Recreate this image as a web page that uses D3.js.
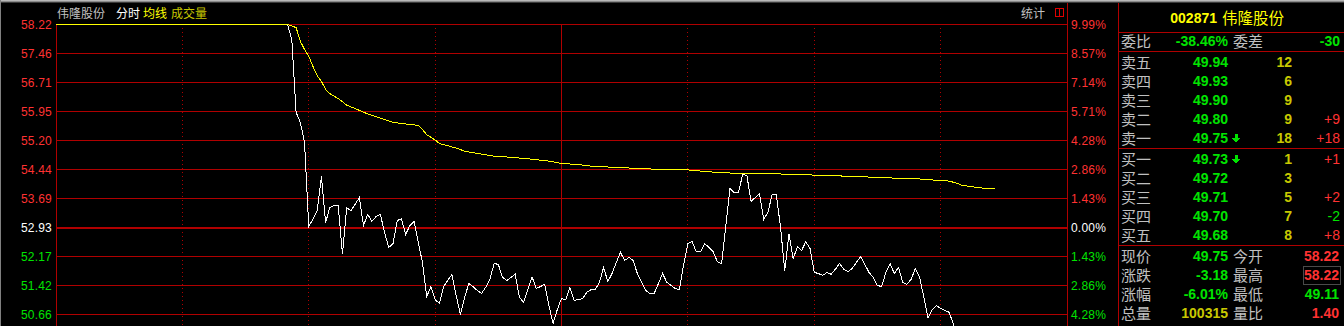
<!DOCTYPE html>
<html>
<head>
<meta charset="utf-8">
<script src="https://cdn.jsdelivr.net/npm/d3@7"></script>
<style>
  html, body { margin: 0; padding: 0; background: #000; overflow: hidden; }
  svg { display: block; }
  .num { font-family: "Liberation Sans", Arial, sans-serif; }
  .cjk { font-family: "Noto Sans CJK SC", sans-serif; }
</style>
</head>
<body>
<svg id="chart" width="1344" height="326"></svg>
<script>
// ---------------- data ----------------
const stockCode = "002871";
const stockName = "伟隆股份";
const preClose = 52.93;

// left axis (price) tick labels and right axis (percent) tick labels
const priceTicks = ["58.22","57.46","56.71","55.95","55.20","54.44","53.69","52.93","52.17","51.42","50.66","49.91","49.15","48.40","47.64"];
const pctTicks   = ["9.99%","8.57%","7.14%","5.71%","4.28%","2.86%","1.43%","0.00%","1.43%","2.86%","4.28%","5.71%","7.14%","8.57%","9.99%"];

// minute-by-minute last price (minute index 0 .. 223 of 240)
const minutePrices = [
  58.22,58.22,58.22,58.22,58.22,58.22,58.22,58.22,58.22,58.22,
  58.22,58.22,58.22,58.22,58.22,58.22,58.22,58.22,58.22,58.22,
  58.22,58.22,58.22,58.22,58.22,58.22,58.22,58.22,58.22,58.22,
  58.22,58.22,58.22,58.22,58.22,58.22,58.22,58.22,58.22,58.22,
  58.22,58.22,58.22,58.22,58.22,58.22,58.22,58.22,58.22,58.22,
  58.22,58.22,58.22,58.22,58.22,58.22,
  57.80,55.93,55.67,55.15,52.96,53.14,53.37,54.26,53.06,53.45,
  53.50,53.50,52.23,53.45,53.37,53.53,53.71,52.98,53.27,53.09,
  53.22,53.27,52.80,52.41,52.51,53.11,53.16,52.75,52.98,53.09,
  52.54,52.02,51.13,51.39,51.05,50.95,51.39,51.55,51.71,51.16,
  50.66,51.11,51.47,51.39,51.29,51.21,51.37,51.58,51.99,51.97,
  51.63,51.55,51.63,51.71,51.11,50.98,51.31,51.65,51.34,51.39,
  51.45,50.90,50.43,50.79,51.08,51.05,51.37,51.03,51.05,51.08,
  51.24,51.31,51.31,51.50,51.89,51.52,51.73,52.02,52.28,52.07,
  52.15,52.07,51.73,51.50,51.29,51.21,51.21,51.47,51.73,51.50,
  51.42,51.34,51.31,51.97,52.51,52.56,52.30,52.30,52.51,52.41,
  52.30,52.04,51.99,52.98,53.95,53.84,53.84,54.31,54.29,53.61,
  53.71,53.82,53.14,53.32,53.79,53.79,52.93,51.81,52.77,52.12,
  52.43,52.33,52.56,52.38,51.76,51.73,51.68,51.76,51.71,51.84,
  51.99,51.84,51.78,51.86,52.02,52.17,51.97,51.76,51.63,51.42,
  51.39,51.76,51.99,51.73,51.89,51.50,51.45,51.58,51.86,51.63,
  51.13,50.58,50.79,50.90,50.82,50.77,50.72,50.43,49.99,49.59,
  49.26,49.11,49.41,49.59,49.67,49.72,49.75,49.75
];

// average price line (minute, price)
const avgMinutes = [0,55,57,58,59,60,61,62,63,64,65,67,69,71,74,76,78,80,82,86,87,88,90,91,93,95,97,100,104,108,112,117,120,124,127,134,142,150,152,155,160,170,177,181,190,196,206,208,210,212,214,215,217,219,221,223];
const avgPrices  = [58.22,58.22,58.14,57.78,57.57,57.39,57.13,56.89,56.74,56.53,56.42,56.29,56.12,56.03,55.89,55.82,55.74,55.67,55.64,55.59,55.48,55.35,55.21,55.12,55.06,55.00,54.92,54.86,54.79,54.76,54.72,54.66,54.60,54.57,54.53,54.49,54.45,54.43,54.41,54.38,54.35,54.33,54.31,54.29,54.26,54.23,54.19,54.17,54.15,54.14,54.08,54.03,54.00,53.97,53.94,53.94];

const timeGridMinutes = [0,30,60,90,120,150,180,210,240];

// order book
const weibi = "-38.46%", weicha = "-30";
const sellLabels = ["卖五","卖四","卖三","卖二","卖一"];
const sellPrices = ["49.94","49.93","49.90","49.80","49.75"];
const sellVols   = ["12","6","9","9","18"];
const sellChg    = ["","","","+9","+18"];
const buyLabels  = ["买一","买二","买三","买四","买五"];
const buyPrices  = ["49.73","49.72","49.71","49.70","49.68"];
const buyVols    = ["1","3","5","7","8"];
const buyChg     = ["+1","","+2","-2","+8"];

// quote stats
const statLeftLabels  = ["现价","涨跌","涨幅","总量"];
const statLeftValues  = ["49.75","-3.18","-6.01%","100315"];
const statRightLabels = ["今开","最高","最低","量比"];
const statRightValues = ["58.22","58.22","49.11","1.40"];

// ---------------- drawing ----------------
const RED = "#ff3232", GREEN = "#00e400", GRID = "#b00000", LABEL = "#c0c0c0", VOLY = "#c8c800";
const H = 326;
const svg = d3.select("#chart");
svg.append("rect").attr("width",1344).attr("height",H).attr("fill","#000");

// top gray bevel and left edge
svg.append("rect").attr("x",0).attr("y",0).attr("width",1344).attr("height",1).attr("fill","#b8b8b8");
svg.append("rect").attr("x",0).attr("y",1).attr("width",1344).attr("height",1).attr("fill","#8a8a8a");
svg.append("rect").attr("x",0).attr("y",2).attr("width",1344).attr("height",1).attr("fill","#3a3a3a");
svg.append("rect").attr("x",0).attr("y",0).attr("width",1).attr("height",H).attr("fill","#808080");

const x = d3.scaleLinear().domain([0,240]).range([56,1067]);
const y = d3.scaleLinear().domain([+priceTicks[priceTicks.length-1], +priceTicks[0]]).range([430.5,24.5]);
const px = v => Math.floor(v) + 0.5;

const grid = svg.append("g").attr("shape-rendering","crispEdges");
// horizontal grid lines
priceTicks.forEach(t => {
  const p = +t;
  const isZero = Math.abs(p - preClose) < 0.005;
  const yy = isZero ? Math.floor(y(p)) + 1 : px(y(p));
  grid.append("line")
    .attr("x1", x(0)).attr("x2", x(240)+1)
    .attr("y1", yy).attr("y2", yy)
    .attr("stroke", GRID).attr("stroke-width", isZero ? 2 : 1);
});
// vertical grid lines
timeGridMinutes.forEach(m => {
  const solid = (m === 0 || m === 120 || m === 240);
  grid.append("line")
    .attr("x1", px(x(m))).attr("x2", px(x(m)))
    .attr("y1", (m === 240) ? 3 : y(+priceTicks[0]) - 0.5).attr("y2", 440)
    .attr("stroke", GRID).attr("stroke-width", 1)
    .attr("stroke-dasharray", solid ? null : "1,3");
});
// right panel border and separators
grid.append("line").attr("x1",1118.5).attr("x2",1118.5).attr("y1",3).attr("y2",H).attr("stroke",GRID);
[32,51,148,245].forEach(r => {
  grid.append("line").attr("x1",1118).attr("x2",1344).attr("y1",r+0.5).attr("y2",r+0.5).attr("stroke",GRID);
});

// axis labels (only those inside the visible window)
const tickColor = t => {
  const p = +t;
  if (Math.abs(p - preClose) < 0.005) return "#ffffff";
  return p > preClose ? RED : GREEN;
};
const visibleIdx = priceTicks.map((t,i) => i).filter(i => px(y(+priceTicks[i])) + 4 < H - 2);
svg.append("g").selectAll("text").data(visibleIdx).join("text")
  .attr("class","num").attr("x",52).attr("y", i => px(y(+priceTicks[i])) + 4)
  .attr("text-anchor","end").attr("font-size",12).attr("letter-spacing",0.2)
  .attr("fill", i => tickColor(priceTicks[i])).text(i => priceTicks[i]);
svg.append("g").selectAll("text").data(visibleIdx).join("text")
  .attr("class","num").attr("x",1071).attr("y", i => px(y(+priceTicks[i])) + 4)
  .attr("text-anchor","start").attr("font-size",12).attr("letter-spacing",0.2)
  .attr("fill", i => tickColor(priceTicks[i])).text(i => pctTicks[i]);

// price line and average line
const priceLine = d3.line().x((d,i) => x(i)).y(d => y(d));
svg.append("path").datum(minutePrices)
  .attr("d", priceLine).attr("fill","none").attr("stroke","#ffffff").attr("stroke-width",1)
  .attr("shape-rendering","crispEdges");
const avgData = avgMinutes.map((m,i) => [m, avgPrices[i]]);
svg.append("path").datum(avgData)
  .attr("d", d3.line().x(d => x(d[0])).y(d => y(d[1])))
  .attr("fill","none").attr("stroke","#ffff00").attr("stroke-width",1)
  .attr("shape-rendering","crispEdges");

// title row
const title = svg.append("g").attr("class","cjk").attr("font-size",12);
title.append("text").attr("x",57).attr("y",18).attr("fill",LABEL).text(stockName);
title.append("text").attr("x",116).attr("y",18).attr("fill","#ffffff").text("分时");
title.append("text").attr("x",143).attr("y",18).attr("fill","#ffff00").text("均线");
title.append("text").attr("x",171).attr("y",18).attr("fill",VOLY).text("成交量");
title.append("text").attr("x",1021).attr("y",18).attr("fill",LABEL).text("统计");
svg.append("rect").attr("x",1055.5).attr("y",8.5).attr("width",8).attr("height",8)
  .attr("fill","none").attr("stroke","#e00000").attr("shape-rendering","crispEdges");
svg.append("line").attr("x1",1059.5).attr("x2",1059.5).attr("y1",8.5).attr("y2",16.5)
  .attr("stroke","#e00000").attr("shape-rendering","crispEdges");

// right panel header
svg.append("text").attr("class","num").attr("font-weight","bold").attr("font-size",14)
  .attr("x",1217).attr("y",23).attr("text-anchor","end").attr("fill","#ffff00").text(stockCode);
svg.append("text").attr("class","cjk").attr("font-size",15.5)
  .attr("x",1222).attr("y",24).attr("fill","#ffff00").text(stockName);

const LF = 15;
const panel = svg.append("g");
function row(baseline, label, value, valueColor, vol, chg, chgColor, arrow) {
  panel.append("text").attr("class","cjk").attr("font-size",LF).attr("x",1121).attr("y",baseline+1)
    .attr("fill",LABEL).text(label);
  panel.append("text").attr("class","num").attr("font-weight","bold").attr("font-size",14)
    .attr("x",1228).attr("y",baseline).attr("text-anchor","end").attr("fill",valueColor).text(value);
  panel.append("text").attr("class","num").attr("font-weight","bold").attr("font-size",14)
    .attr("x",1292).attr("y",baseline).attr("text-anchor","end").attr("fill",VOLY).text(vol);
  if (chg) panel.append("text").attr("class","num").attr("font-size",14)
    .attr("x",1340).attr("y",baseline).attr("text-anchor","end").attr("fill",chgColor).text(chg);
  if (arrow) {
    const ax = 1235.5, top = baseline - 9;
    panel.append("path")
      .attr("d", `M${ax-1},${top} h3 v4 h3 l-4.5,5 l-4.5,-5 h3 z`)
      .attr("fill", GREEN).attr("shape-rendering","crispEdges");
  }
}
// 委比 row
panel.append("text").attr("class","cjk").attr("font-size",LF).attr("x",1121).attr("y",47).attr("fill",LABEL).text("委比");
panel.append("text").attr("class","num").attr("font-weight","bold").attr("font-size",14)
  .attr("x",1228).attr("y",46).attr("text-anchor","end").attr("fill",GREEN).text(weibi);
panel.append("text").attr("class","cjk").attr("font-size",LF).attr("x",1233).attr("y",47).attr("fill",LABEL).text("委差");
panel.append("text").attr("class","num").attr("font-weight","bold").attr("font-size",14)
  .attr("x",1340).attr("y",46).attr("text-anchor","end").attr("fill",GREEN).text(weicha);

const chgColor = c => c.startsWith("-") ? GREEN : RED;
sellLabels.forEach((l,i) => row(66.5 + i*19, l, sellPrices[i], GREEN, sellVols[i], sellChg[i], chgColor(sellChg[i]), i === 4));
buyLabels.forEach((l,i) => row(163.5 + i*19, l, buyPrices[i], GREEN, buyVols[i], buyChg[i], chgColor(buyChg[i]), i === 0));

// stats block
statLeftLabels.forEach((l,i) => {
  const b = 260.5 + i*19;
  panel.append("text").attr("class","cjk").attr("font-size",LF).attr("x",1121).attr("y",b+1).attr("fill",LABEL).text(l);
  panel.append("text").attr("class","cjk").attr("font-size",LF).attr("x",1233).attr("y",b+1).attr("fill",LABEL).text(statRightLabels[i]);
  const lv = statLeftValues[i];
  panel.append("text").attr("class","num").attr("font-weight","bold").attr("font-size",14)
    .attr("x",1228).attr("y",b).attr("text-anchor","end")
    .attr("fill", i === 3 ? VOLY : (lv.startsWith("-") || +lv < preClose ? GREEN : RED)).text(lv);
  const rv = statRightValues[i];
  panel.append("text").attr("class","num").attr("font-weight","bold").attr("font-size",14)
    .attr("x",1339).attr("y",b).attr("text-anchor","end")
    .attr("fill", i === 3 ? RED : (+rv >= preClose ? RED : GREEN)).text(rv);
});
// highlight box around 最高 value
panel.append("rect").attr("x",1303.5).attr("y",266.5).attr("width",37).attr("height",18)
  .attr("fill","none").attr("stroke","#4a4a4a").attr("shape-rendering","crispEdges");
</script>
</body>
</html>
